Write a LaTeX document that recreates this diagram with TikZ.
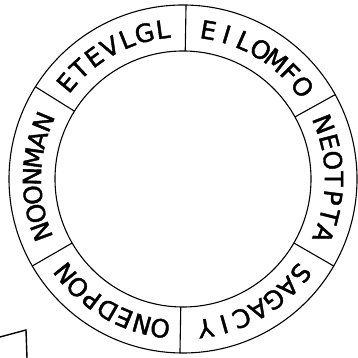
\documentclass[tikz,border=0pt]{standalone}
\usepackage{fontspec}
\setmainfont{DejaVu Sans}
\newfontfamily\ringfont{DejaVu Sans}[FakeBold=1.6]
\usetikzlibrary{calc}
\tikzset{
    ring/.style={line width=1.1pt},
    divider/.style={line width=1.1pt},
    letter/.style={inner sep=0pt,font=\ringfont\fontsize{25}{30}\selectfont},
    corner/.style={line width=1.4pt}
}

\begin{document}
\begin{tikzpicture}[x=1pt,y=1pt]
    \useasboundingbox (0,0) rectangle (358,358);
    \coordinate (c) at (183,179);
    \draw[ring] (c) circle[radius=174];
    \draw[ring] (c) circle[radius=128];
    \foreach \a in {89,29,-30,-91,210,148}
        \draw[divider] ($(c)+(\a:128)$) -- ($(c)+(\a:174)$);
    % letters run clockwise, tops outward
    \foreach \letters/\mid [count=\w] in {{E,T,E,V,L,G,L}/119,{E,I,L,O,M,F,O}/59,{N,E,O,T,P,T,A}/0,{S,A,G,A,C,I,Y}/-60,{O,N,E,D,P,O,N}/-120,{N,O,O,N,M,A,N}/179}
        \foreach \l [count=\i] in \letters
            \node[letter,rotate={\mid+(4-\i)*7.1-90}] (w\w-\i) at ($(c)+({\mid+(4-\i)*7.1}:151)$) {\l};
    \draw[corner] (0,21) -- (26,28) -- (27,0);
\end{tikzpicture}
\end{document}
